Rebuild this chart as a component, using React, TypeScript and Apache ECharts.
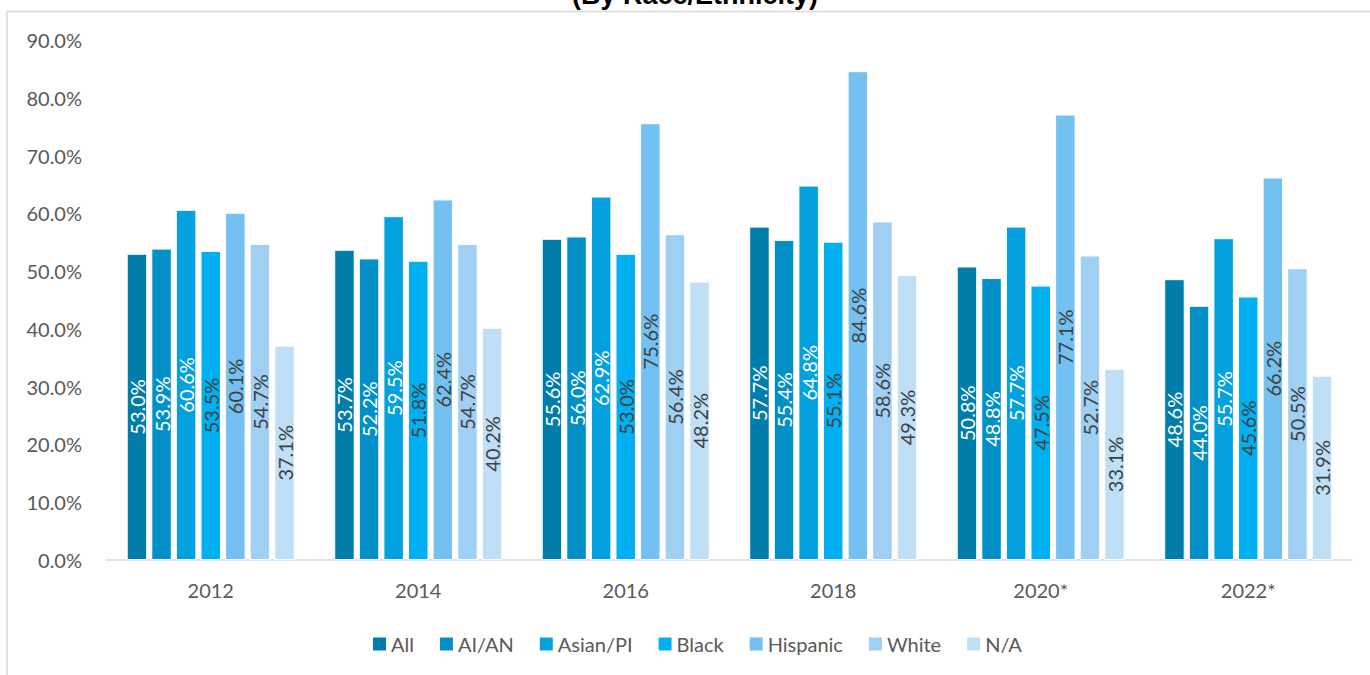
import React, { useEffect, useRef } from "react";
import * as echarts from "echarts";

// Survey years on the category axis
const years = ["2012", "2014", "2016", "2018", "2020*", "2022*"];

// Percentages by race/ethnicity group
const seriesNames = ["All", "AI/AN", "Asian/PI", "Black", "Hispanic", "White", "N/A"];
const allValues = [53.0, 53.7, 55.6, 57.7, 50.8, 48.6];
const aianValues = [53.9, 52.2, 56.0, 55.4, 48.8, 44.0];
const asianPiValues = [60.6, 59.5, 62.9, 64.8, 57.7, 55.7];
const blackValues = [53.5, 51.8, 53.0, 55.1, 47.5, 45.6];
const hispanicValues = [60.1, 62.4, 75.6, 84.6, 77.1, 66.2];
const whiteValues = [54.7, 54.7, 56.4, 58.6, 52.7, 50.5];
const naValues = [37.1, 40.2, 48.2, 49.3, 33.1, 31.9];

const seriesValues = [allValues, aianValues, asianPiValues, blackValues, hispanicValues, whiteValues, naValues];
const seriesColors = ["#017DA9", "#0290C6", "#03A1DD", "#00B0F0", "#74C0F1", "#A0CFF4", "#BFDFF7"];
const labelColors = ["#FFFFFF", "#FFFFFF", "#FFFFFF", "#404040", "#404040", "#404040", "#404040"];

const FONT = "Lato, 'Liberation Sans', sans-serif";

export default function App() {
  const ref = useRef<HTMLDivElement>(null);

  useEffect(() => {
    if (!ref.current) return;
    const chart = echarts.init(ref.current, null, { renderer: "svg" });

    const series = seriesNames.map((name, i) => ({
      name,
      type: "bar" as const,
      data: seriesValues[i],
      barGap: "20%",
      barCategoryGap: "19%",
      itemStyle: { color: seriesColors[i], borderColor: "#FFFFFF", borderWidth: 1 },
      label: {
        show: true,
        position: "inside",
        rotate: 90,
        color: labelColors[i],
        fontFamily: FONT,
        fontSize: 20,
        formatter: (p: any) => Number(p.value).toFixed(1) + "%",
      },
    }));

    chart.setOption({
      animation: false,
      textStyle: { fontFamily: FONT },
      graphic: [
        {
          type: "rect",
          shape: { x: 7, y: 11.5, width: 1400, height: 700 },
          style: { fill: "none", stroke: "#D9D9D9", lineWidth: 1.5 },
          silent: true,
          z: -10,
        },
        {
          type: "text",
          x: 695,
          y: -5,
          style: {
            text: "(By Race/Ethnicity)",
            font: "bold 27px 'Liberation Sans', Arial, sans-serif",
            fill: "#000000",
            align: "center",
            verticalAlign: "middle",
          },
        },
      ],
      legend: {
        data: seriesNames,
        left: 366,
        top: 629,
        icon: "rect",
        itemWidth: 15,
        itemHeight: 15,
        itemGap: 24,
        textStyle: { color: "#595959", fontSize: 20, fontFamily: FONT, padding: [0, 0, 0, -1] },
      },
      grid: { left: 107, right: 18, top: 40, bottom: 115, containLabel: false },
      xAxis: {
        type: "category",
        data: years,
        axisLine: { show: true, lineStyle: { color: "#D9D9D9", width: 1.5 } },
        axisTick: { show: false },
        axisLabel: { color: "#595959", fontSize: 20, fontFamily: FONT, margin: 20 },
      },
      yAxis: {
        type: "value",
        min: 0,
        max: 90,
        interval: 10,
        axisLine: { show: false },
        axisTick: { show: false },
        splitLine: { show: false },
        axisLabel: {
          color: "#595959",
          fontSize: 20,
          fontFamily: FONT,
          margin: 25,
          formatter: (v: number) => v.toFixed(1) + "%",
        },
      },
      series,
    });

    return () => chart.dispose();
  }, []);

  return (
    <div
      ref={ref}
      style={{ position: "absolute", left: 0, top: 0, width: 1370, height: 675, background: "#FFFFFF" }}
    />
  );
}
